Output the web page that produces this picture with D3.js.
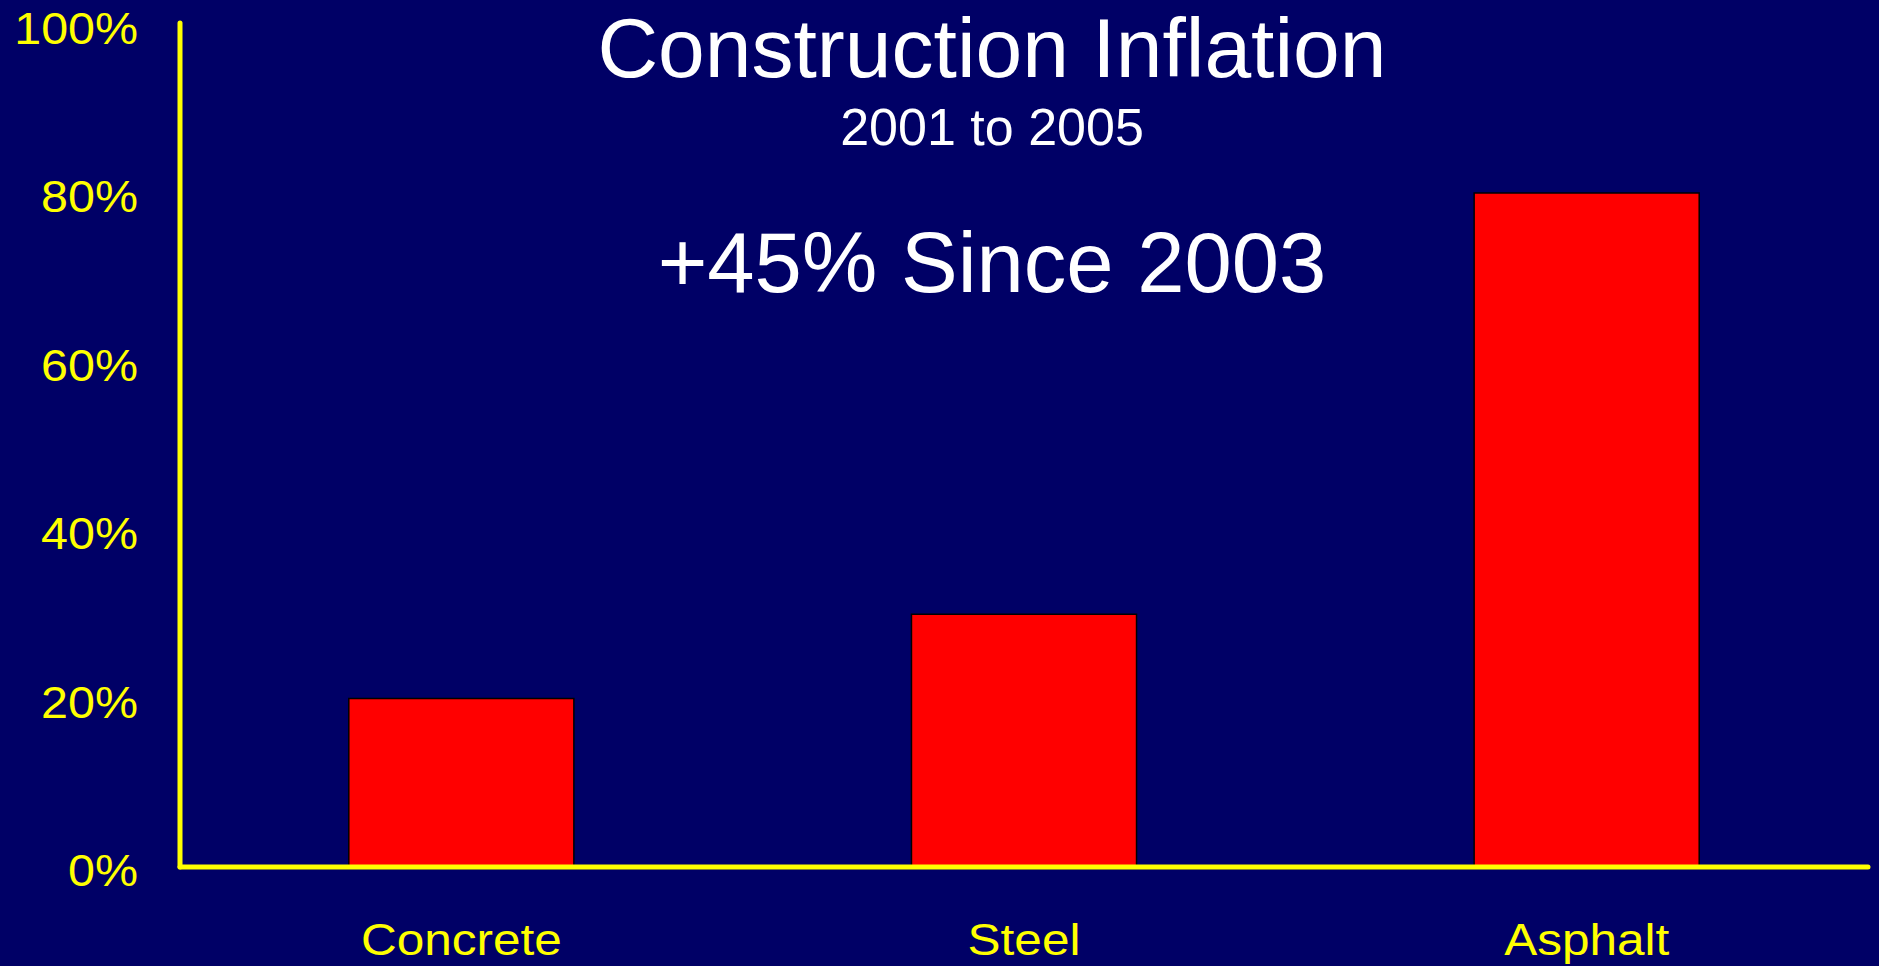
<!DOCTYPE html>
<html>
<head>
<meta charset="utf-8">
<script src="https://cdn.jsdelivr.net/npm/d3@7"></script>
<style>
  html, body { margin: 0; padding: 0; background: #000066; overflow: hidden; }
  svg { display: block; }
  text { font-family: "Liberation Sans", Arial, sans-serif; }
</style>
</head>
<body>
<svg id="chart" width="1879" height="966"></svg>
<script>
// ---- Data ----
const categories = ["Concrete", "Steel", "Asphalt"];
const values = [20, 30, 80];            // percent increase
const yTicks = [0, 20, 40, 60, 80, 100];
const titleText = "Construction Inflation";
const subtitleText = "2001 to 2005";
const calloutText = "+45% Since 2003";

// ---- Layout ----
const W = 1879, H = 966;
const x0 = 180, x1 = 1868, yBase = 867, yTop = 24.5;
const svg = d3.select("#chart");

svg.append("rect").attr("width", W).attr("height", H).attr("fill", "#000066");

const x = d3.scaleBand().domain(categories).range([x0, x1]).paddingInner(0.6).paddingOuter(0.3);
const y = d3.scaleLinear().domain([0, 100]).range([yBase, yTop]);

// Bars
svg.append("g").selectAll("rect")
  .data(categories.map((c, i) => ({c, v: values[i]})))
  .join("rect")
  .attr("x", d => x(d.c))
  .attr("y", d => y(d.v))
  .attr("width", x.bandwidth())
  .attr("height", d => y(0) - y(d.v))
  .attr("fill", "#FF0000")
  .attr("stroke", "#000000")
  .attr("stroke-width", 1.5);

// Axes (custom yellow lines)
const yAxis = d3.axisLeft(y).tickValues(yTicks).tickSize(0).tickFormat(d => d + "%");
const gy = svg.append("g").attr("transform", `translate(${x0},0)`).call(yAxis);
gy.select(".domain").remove();
gy.selectAll("text")
  .attr("fill", "#FFFF00")
  .attr("font-size", 44)
  .attr("font-family", "Liberation Sans, Arial, sans-serif")
  .attr("text-anchor", "end")
  .attr("dy", null)
  .attr("x", 0)
  .attr("y", 0)
  .attr("transform", "translate(-42,18.5) scale(1.1,1)");

const xAxis = d3.axisBottom(x).tickSize(0);
const gx = svg.append("g").attr("transform", `translate(0,${yBase})`).call(xAxis);
gx.select(".domain").remove();
gx.selectAll(".tick text")
  .attr("fill", "#FFFF00")
  .attr("font-size", 45)
  .attr("font-family", "Liberation Sans, Arial, sans-serif")
  .attr("text-anchor", "middle")
  .attr("dy", null)
  .attr("y", 0)
  .attr("transform", "translate(0,88) scale(1.1,1)");

// Axis lines
svg.append("line")
  .attr("x1", x0).attr("x2", x0).attr("y1", 23).attr("y2", yBase)
  .attr("stroke", "#FFFF00").attr("stroke-width", 5).attr("stroke-linecap", "round");
svg.append("line")
  .attr("x1", x0).attr("x2", x1).attr("y1", yBase).attr("y2", yBase)
  .attr("stroke", "#FFFF00").attr("stroke-width", 5).attr("stroke-linecap", "round");

// Titles
svg.append("text").attr("x", 992).attr("y", 77)
  .attr("text-anchor", "middle").attr("fill", "#FFFFFF").attr("font-size", 84)
  .text(titleText);
svg.append("text").attr("x", 992).attr("y", 145)
  .attr("text-anchor", "middle").attr("fill", "#FFFFFF").attr("font-size", 52)
  .text(subtitleText);
svg.append("text").attr("x", 992).attr("y", 292)
  .attr("text-anchor", "middle").attr("fill", "#FFFFFF").attr("font-size", 85)
  .text(calloutText);
</script>
</body>
</html>
